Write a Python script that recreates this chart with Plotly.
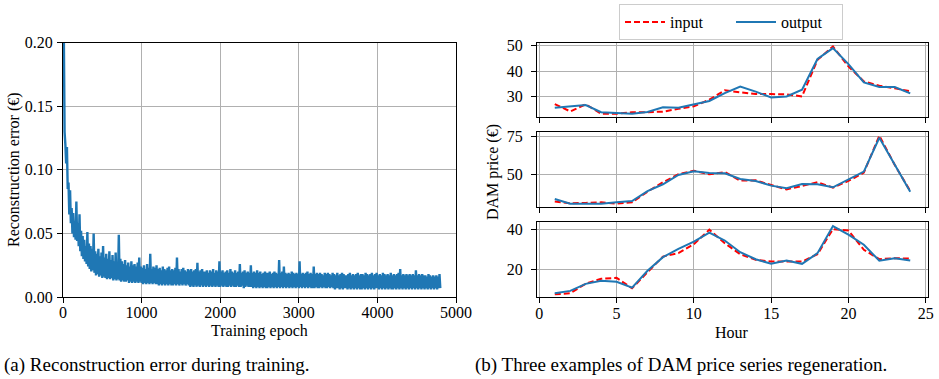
import plotly.graph_objects as go

# ---------------- data ----------------
epoch_step = 10
loss = [
    0.450, 0.210, 0.130, 0.120, 0.105, 0.118, 0.085, 0.090, 0.065, 0.084,
    0.058, 0.070, 0.050, 0.066, 0.047, 0.060, 0.045, 0.075, 0.044, 0.058,
    0.040, 0.065, 0.036, 0.052, 0.032, 0.048, 0.030, 0.045, 0.028, 0.040,
    0.026, 0.051, 0.024, 0.042, 0.022, 0.040, 0.020, 0.038, 0.021, 0.050,
    0.019, 0.036, 0.017, 0.034, 0.018, 0.038, 0.016, 0.032, 0.017, 0.035,
    0.015, 0.040, 0.016, 0.031, 0.015, 0.034, 0.014, 0.030, 0.015, 0.036,
    0.014, 0.029, 0.015, 0.033, 0.013, 0.028, 0.014, 0.035, 0.013, 0.027,
    0.014, 0.049, 0.013, 0.030, 0.012, 0.028, 0.013, 0.026, 0.012, 0.029,
    0.012, 0.025, 0.013, 0.027, 0.011, 0.024, 0.012, 0.028, 0.011, 0.025,
    0.012, 0.026, 0.011, 0.024, 0.012, 0.027, 0.011, 0.031, 0.012, 0.024,
    0.011, 0.023, 0.010, 0.025, 0.011, 0.022, 0.010, 0.026, 0.011, 0.023,
    0.010, 0.034, 0.011, 0.022, 0.010, 0.024, 0.011, 0.023, 0.010, 0.025,
    0.010, 0.022, 0.009, 0.023, 0.010, 0.021, 0.009, 0.024, 0.010, 0.022,
    0.009, 0.021, 0.010, 0.023, 0.009, 0.024, 0.010, 0.021, 0.009, 0.022,
    0.009, 0.021, 0.010, 0.023, 0.009, 0.031, 0.010, 0.022, 0.009, 0.020,
    0.010, 0.022, 0.009, 0.023, 0.010, 0.021, 0.009, 0.020, 0.010, 0.022,
    0.009, 0.021, 0.008, 0.022, 0.009, 0.020, 0.008, 0.021, 0.009, 0.022,
    0.008, 0.027, 0.009, 0.020, 0.008, 0.021, 0.009, 0.022, 0.008, 0.020,
    0.009, 0.020, 0.008, 0.021, 0.009, 0.019, 0.008, 0.021, 0.009, 0.020,
    0.008, 0.022, 0.009, 0.019, 0.008, 0.021, 0.009, 0.020, 0.008, 0.028,
    0.008, 0.020, 0.009, 0.021, 0.008, 0.019, 0.009, 0.020, 0.008, 0.021,
    0.008, 0.019, 0.009, 0.022, 0.008, 0.020, 0.009, 0.019, 0.008, 0.021,
    0.008, 0.019, 0.009, 0.020, 0.008, 0.026, 0.008, 0.019, 0.009, 0.020,
    0.007, 0.021, 0.008, 0.019, 0.009, 0.020, 0.008, 0.019, 0.008, 0.025,
    0.008, 0.019, 0.007, 0.020, 0.008, 0.019, 0.007, 0.021, 0.008, 0.019,
    0.007, 0.020, 0.008, 0.018, 0.007, 0.019, 0.008, 0.020, 0.007, 0.019,
    0.007, 0.019, 0.008, 0.020, 0.007, 0.018, 0.008, 0.019, 0.007, 0.020,
    0.008, 0.019, 0.007, 0.018, 0.008, 0.029, 0.007, 0.019, 0.008, 0.020,
    0.007, 0.024, 0.008, 0.019, 0.007, 0.018, 0.008, 0.019, 0.007, 0.018,
    0.008, 0.020, 0.007, 0.019, 0.008, 0.018, 0.007, 0.019, 0.008, 0.018,
    0.007, 0.028, 0.008, 0.018, 0.007, 0.019, 0.008, 0.018, 0.007, 0.019,
    0.008, 0.020, 0.007, 0.018, 0.008, 0.019, 0.007, 0.018, 0.007, 0.024,
    0.007, 0.018, 0.008, 0.019, 0.007, 0.018, 0.007, 0.019, 0.008, 0.018,
    0.007, 0.017, 0.008, 0.019, 0.007, 0.018, 0.007, 0.019, 0.008, 0.018,
    0.007, 0.017, 0.008, 0.019, 0.007, 0.018, 0.006, 0.017, 0.007, 0.019,
    0.007, 0.017, 0.006, 0.018, 0.007, 0.019, 0.006, 0.018, 0.007, 0.017,
    0.007, 0.017, 0.006, 0.018, 0.007, 0.019, 0.006, 0.017, 0.007, 0.018,
    0.006, 0.017, 0.007, 0.018, 0.006, 0.019, 0.007, 0.017, 0.006, 0.018,
    0.006, 0.018, 0.007, 0.017, 0.006, 0.019, 0.007, 0.018, 0.006, 0.017,
    0.007, 0.018, 0.006, 0.019, 0.007, 0.017, 0.006, 0.018, 0.007, 0.019,
    0.007, 0.017, 0.006, 0.018, 0.007, 0.017, 0.006, 0.019, 0.007, 0.018,
    0.006, 0.017, 0.007, 0.018, 0.006, 0.017, 0.007, 0.019, 0.006, 0.017,
    0.006, 0.018, 0.007, 0.017, 0.006, 0.018, 0.007, 0.019, 0.006, 0.022,
    0.007, 0.017, 0.006, 0.018, 0.007, 0.017, 0.006, 0.018, 0.007, 0.017,
    0.006, 0.018, 0.007, 0.017, 0.006, 0.018, 0.007, 0.017, 0.006, 0.021,
    0.007, 0.017, 0.006, 0.018, 0.007, 0.017, 0.006, 0.018, 0.007, 0.017,
    0.006, 0.017, 0.007, 0.016, 0.006, 0.018, 0.007, 0.017, 0.006, 0.016,
    0.007, 0.017, 0.006, 0.016, 0.007, 0.017, 0.006, 0.016, 0.007, 0.018,
    0.007,
]
epochs = [i * epoch_step for i in range(len(loss))]

hours = list(range(1, 25))
input_1 = [27.1, 24.2, 27.0, 23.3, 23.3, 23.9, 23.9, 24.1, 25.2, 26.2, 28.8, 32.5,
           31.7, 31.0, 31.0, 30.9, 30.1, 44.5, 49.7, 41.9, 36.0, 34.3, 33.3, 32.1]
output_1 = [25.6, 26.2, 26.7, 23.9, 23.6, 23.3, 24.0, 25.8, 25.6, 27.0, 28.3, 31.4,
            34.0, 32.0, 29.7, 30.1, 32.7, 44.8, 49.1, 42.8, 35.6, 33.8, 33.8, 31.3]
input_2 = [31.9, 30.8, 31.0, 31.4, 30.5, 31.4, 38.5, 44.7, 50.0, 52.4, 50.0, 51.5,
           45.8, 46.0, 42.9, 40.0, 42.3, 44.7, 41.2, 45.6, 51.1, 75.7, 56.2, 38.9]
output_2 = [33.6, 30.5, 30.5, 30.5, 31.4, 32.3, 38.9, 43.4, 49.6, 52.0, 50.9, 50.7,
            46.9, 45.6, 42.5, 40.7, 43.6, 43.4, 41.4, 46.7, 51.8, 74.3, 56.6, 38.5]
input_3 = [7.5, 8.0, 12.8, 15.2, 15.7, 10.5, 18.5, 26.3, 28.0, 32.5, 39.7, 33.0,
           27.5, 24.7, 23.8, 23.8, 23.8, 27.5, 40.0, 39.3, 29.7, 25.0, 25.5, 25.3]
output_3 = [8.0, 9.2, 12.7, 14.2, 13.7, 10.8, 19.2, 26.0, 30.2, 33.8, 38.3, 34.3,
            28.5, 25.0, 22.7, 24.3, 22.7, 28.0, 41.5, 37.2, 32.2, 24.2, 25.5, 24.3]

left_xticks = [0, 1000, 2000, 3000, 4000, 5000]
left_yticks = [0.00, 0.05, 0.10, 0.15, 0.20]
hour_ticks = [0, 5, 10, 15, 20, 25]
panel_yticks = [[30, 40, 50], [50, 75], [20, 40]]
panel_yranges = [[22.0, 51.1], [28.5, 77.9], [6.0, 43.4]]

# ---------------- figure ----------------
W, H = 939, 379
BLUE = "#1f77b4"
RED = "#ff0000"
FONT = "Liberation Serif, 'Times New Roman', Times, serif"
GRID = "#b0b0b0"


def px_x(p):
    return p / W


def px_y(p):
    return 1 - p / H


fig = go.Figure()

fig.add_trace(go.Scatter(x=epochs, y=loss, mode="lines",
                         line=dict(color=BLUE, width=2.4, simplify=False), showlegend=False,
                         xaxis="x", yaxis="y"))

inputs = [input_1, input_2, input_3]
outputs = [output_1, output_2, output_3]
for k in range(3):
    ax = str(k + 2)
    fig.add_trace(go.Scatter(x=hours, y=inputs[k], mode="lines", name="input",
                             line=dict(color=RED, width=2, dash="6px,3px"),
                             showlegend=(k == 0), xaxis="x" + ax, yaxis="y" + ax))
    fig.add_trace(go.Scatter(x=hours, y=outputs[k], mode="lines", name="output",
                             line=dict(color=BLUE, width=2),
                             showlegend=(k == 0), xaxis="x" + ax, yaxis="y" + ax))

common = dict(showline=True, mirror=True, linecolor="black", linewidth=1,
              ticks="outside", ticklen=5, tickwidth=1, tickcolor="black",
              showgrid=True, gridcolor=GRID, gridwidth=1, zeroline=False,
              automargin=False,
              tickfont=dict(family=FONT, size=16, color="black"))

layout = dict(
    width=W, height=H,
    margin=dict(l=0, r=0, t=0, b=0, autoexpand=False),
    paper_bgcolor="white", plot_bgcolor="white",
    font=dict(family=FONT, size=16, color="black"),
    xaxis=dict(domain=[px_x(63), px_x(456)], range=[0, 5000],
               tickvals=left_xticks, anchor="y", ticklabelstandoff=-4, **common),
    yaxis=dict(domain=[px_y(297), px_y(42.7)], range=[0, 0.2],
               tickvals=left_yticks, tickformat=".2f", anchor="x",
               ticklabelstandoff=1, **common),
    legend=dict(orientation="h", x=px_x(619), xanchor="left",
                y=px_y(4), yanchor="top",
                bordercolor="#cccccc", borderwidth=1, bgcolor="white",
                font=dict(family=FONT, size=16, color="black"),
                itemwidth=40, entrywidth=56, entrywidthmode="pixels",
                tracegroupgap=0),
)

panel_pix = [(43, 117), (132.3, 206.7), (222.3, 297.3)]
for k in range(3):
    ax = str(k + 2)
    top, bot = panel_pix[k]
    layout["xaxis" + ax] = dict(domain=[px_x(537), px_x(928)], range=[-0.15, 25.15],
                                tickvals=hour_ticks, showticklabels=(k == 2),
                                anchor="y" + ax, ticklabelstandoff=-4, **common)
    layout["yaxis" + ax] = dict(domain=[px_y(bot), px_y(top)], range=panel_yranges[k],
                                tickvals=panel_yticks[k], anchor="x" + ax,
                                ticklabelstandoff=5, **common)

fig.update_layout(**layout)

ann = [
    dict(text="Training epoch", x=px_x(259.5), y=px_y(331), size=16),
    dict(text="Reconstruction error (\u20ac)", x=px_x(14), y=px_y(170), size=16, angle=-90),
    dict(text="Hour", x=px_x(732), y=px_y(332), size=16),
    dict(text="DAM price (\u20ac)", x=px_x(493), y=px_y(172), size=16, angle=-90),
]
for a in ann:
    fig.add_annotation(text=a["text"], x=a["x"], y=a["y"], xref="paper", yref="paper",
                       xanchor="center", yanchor="middle", showarrow=False,
                       textangle=a.get("angle", 0),
                       font=dict(family=FONT, size=a["size"], color="black"))

fig.add_annotation(text="(a) Reconstruction error during training.", x=px_x(2), y=px_y(365),
                   xref="paper", yref="paper", xanchor="left", yanchor="middle",
                   showarrow=False, font=dict(family=FONT, size=19, color="black"))
fig.add_annotation(text="(b) Three examples of DAM price series regeneration.", x=px_x(473),
                   y=px_y(365), xref="paper", yref="paper", xanchor="left", yanchor="middle",
                   showarrow=False, font=dict(family=FONT, size=19, color="black"))

fig.write_html("out.html")
